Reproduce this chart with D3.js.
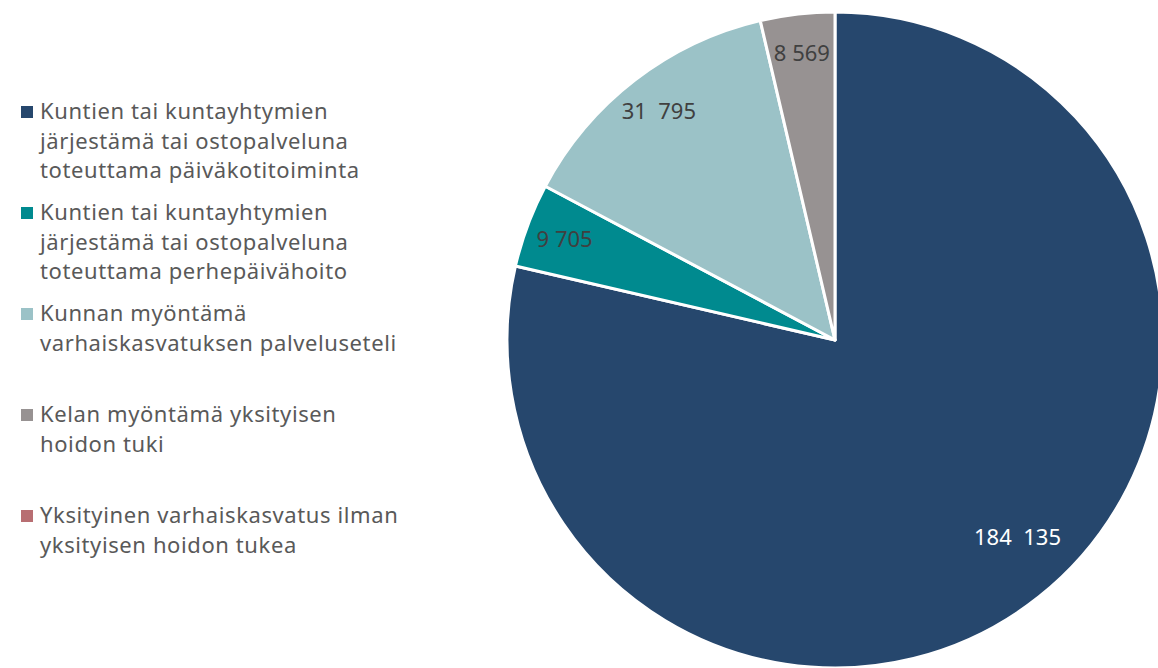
<!DOCTYPE html>
<html>
<head>
<meta charset="utf-8">
<script src="https://cdn.jsdelivr.net/npm/d3@7"></script>
<style>
  body { margin: 0; background: #fff; }
  svg { display: block; font-family: "Noto Sans", "Open Sans", sans-serif; }
</style>
</head>
<body>
<div id="chart"></div>
<script>
const categories = [
  "Kuntien tai kuntayhtymien järjestämä tai ostopalveluna toteuttama päiväkotitoiminta",
  "Kuntien tai kuntayhtymien järjestämä tai ostopalveluna toteuttama perhepäivähoito",
  "Kunnan myöntämä varhaiskasvatuksen palveluseteli",
  "Kelan myöntämä yksityisen hoidon tuki",
  "Yksityinen varhaiskasvatus ilman yksityisen hoidon tukea"
];
const legendLines = [
  ["Kuntien tai kuntayhtymien", "järjestämä tai ostopalveluna", "toteuttama päiväkotitoiminta"],
  ["Kuntien tai kuntayhtymien", "järjestämä tai ostopalveluna", "toteuttama perhepäivähoito"],
  ["Kunnan myöntämä", "varhaiskasvatuksen palveluseteli"],
  ["Kelan myöntämä yksityisen", "hoidon tuki"],
  ["Yksityinen varhaiskasvatus ilman", "yksityisen hoidon tukea"]
];
const values = [184135, 9705, 31795, 8569, 0];
const valueLabels = ["184  135", "9 705", "31  795", "8 569", ""];
const colors = ["#26476d", "#008a8f", "#9bc2c7", "#979292", "#b86e72"];

const width = 1158;
const height = 668;
const cx = 835, cy = 340, radius = 328;

const svg = d3.select("#chart")
  .append("svg")
  .attr("width", width)
  .attr("height", height);

const data = categories.map((c, i) => ({ category: c, value: values[i], label: valueLabels[i], color: colors[i] }));
const total = d3.sum(values);

const pie = d3.pie()
  .sort(null)
  .value(d => d.value);

const arc = d3.arc()
  .innerRadius(0)
  .outerRadius(radius);

const g = svg.append("g")
  .attr("transform", `translate(${cx}, ${cy})`);

const arcs = pie(data).filter(d => d.data.value > 0);

g.selectAll(".slice")
  .data(arcs)
  .enter()
  .append("path")
  .attr("class", "slice")
  .attr("d", arc)
  .attr("fill", d => d.data.color)
  .attr("stroke", "#fff")
  .attr("stroke-width", 3)
  .attr("stroke-linejoin", "round");

// value labels, the big slice sits a bit further in and off-centre like excel does
g.selectAll(".label")
  .data(arcs)
  .enter()
  .append("text")
  .attr("class", "label")
  .attr("transform", d => {
    const big = d.data.value / total > 0.5;
    const a = d.startAngle + (d.endAngle - d.startAngle) * (big ? 0.485 : 0.5);
    const r = radius * (big ? 0.82 : 0.88);
    return `translate(${Math.sin(a) * r}, ${-Math.cos(a) * r})`;
  })
  .attr("text-anchor", "middle")
  .attr("dy", "0.35em")
  .style("font-size", "22px")
  .style("white-space", "pre")
  .attr("fill", d => d.data.value / total > 0.5 ? "#ffffff" : "#404040")
  .text(d => d.data.label);

const legend = svg.append("g")
  .attr("class", "legend");

const items = legend.selectAll(".item")
  .data(data)
  .enter()
  .append("g")
  .attr("class", "item")
  .attr("transform", (d, i) => `translate(0, ${119 + i * 101})`);

items.append("rect")
  .attr("x", 21)
  .attr("y", -13)
  .attr("width", 12)
  .attr("height", 12)
  .attr("fill", d => d.color);

items.append("text")
  .attr("x", 40)
  .attr("y", 0)
  .attr("fill", "#595959")
  .style("font-size", "22px")
  .style("letter-spacing", "0.6px")
  .selectAll("tspan")
  .data((d, i) => legendLines[i])
  .enter()
  .append("tspan")
  .attr("x", 40)
  .attr("dy", (d, i) => i === 0 ? 0 : 29.5)
  .text(d => d);
</script>
</body>
</html>
